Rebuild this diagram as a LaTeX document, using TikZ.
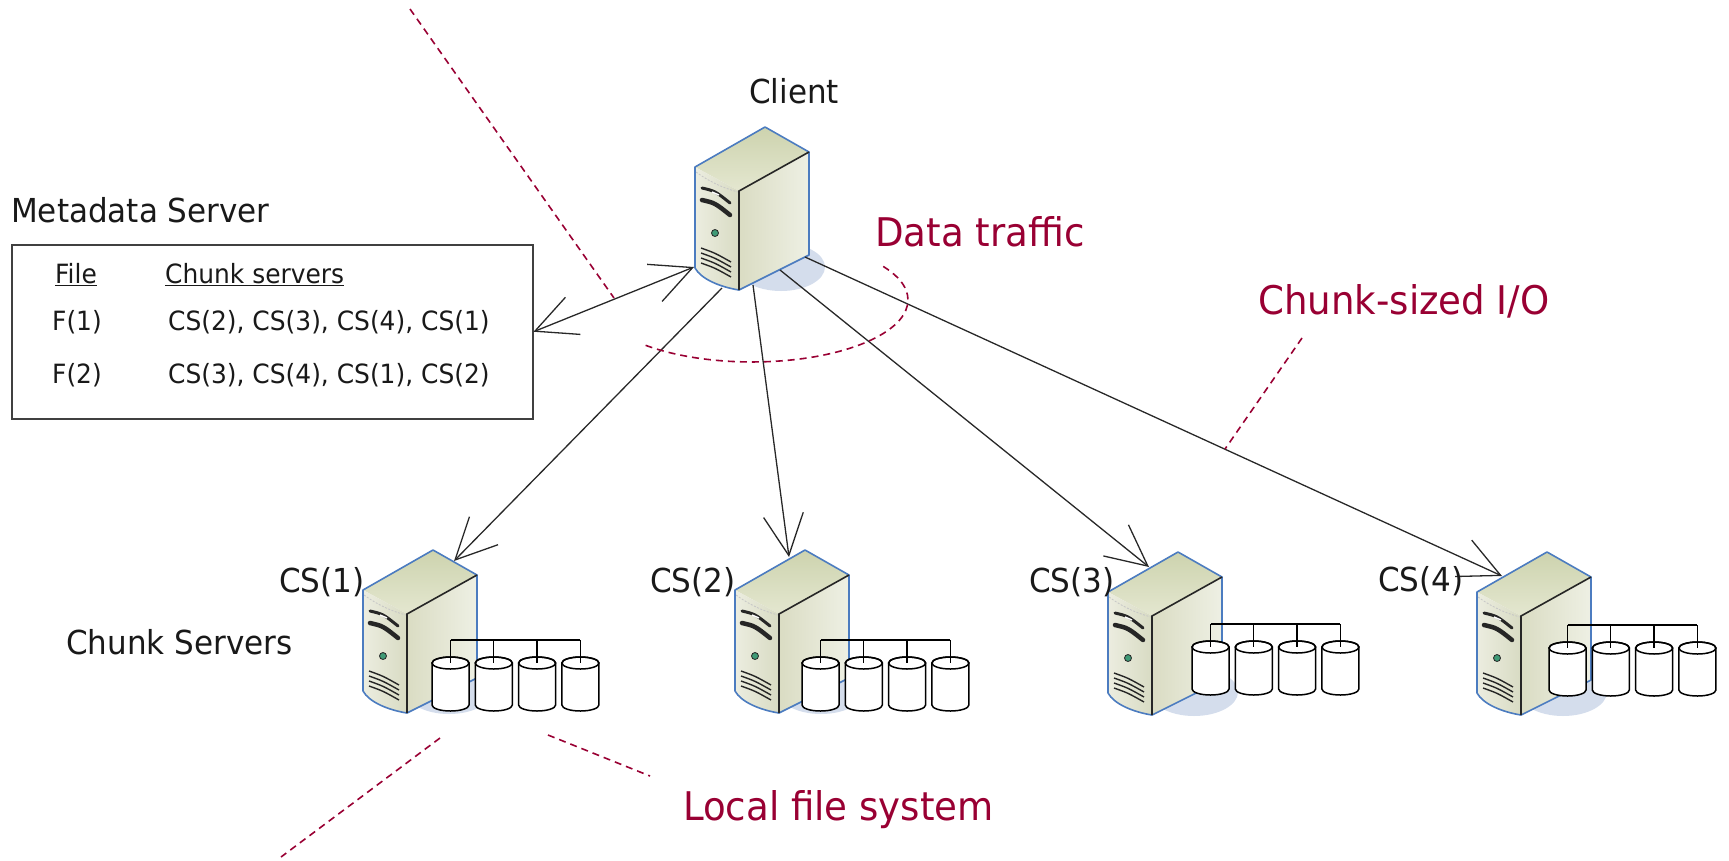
\documentclass[tikz,border=0pt]{standalone}
\usepackage{fontspec}
\setmainfont{DejaVu Sans}[FakeStretch=0.94]
\usetikzlibrary{arrows.meta}
\definecolor{crim}{RGB}{153,0,51}
\definecolor{linec}{RGB}{40,40,40}
\definecolor{textc}{RGB}{25,25,25}
\definecolor{shadowc}{RGB}{212,221,236}
\definecolor{topA}{RGB}{205,211,174}
\definecolor{topB}{RGB}{228,231,208}
\definecolor{frontA}{RGB}{236,237,224}
\definecolor{frontB}{RGB}{216,219,195}
\definecolor{sideA}{RGB}{218,220,195}
\definecolor{sideB}{RGB}{238,240,228}
\definecolor{bluec}{RGB}{76,124,192}
\definecolor{darkc}{RGB}{38,38,38}
\definecolor{greenc}{RGB}{63,154,118}
\newcommand\drawserver[2]{%
\begin{scope}[shift={(#1,#2)}]
\fill[shadowc] (16,140) ellipse [x radius=44, y radius=24];
\shade[top color=topA, bottom color=topB] (0,0) -- (-70,40) -- (-26,64) -- (44,25) -- cycle;
\shade[left color=frontA, right color=frontB] (-70,40) -- (-26,64) -- (-26,163) .. controls (-45,160) and (-64,152) .. (-70,141) -- cycle;
\shade[left color=sideA, right color=sideB] (-26,64) -- (44,25) -- (44,128) -- (-26,163) -- cycle;
\draw[gray!45, line width=0.8pt, dash pattern=on 2pt off 1.5pt] (-69,45) .. controls (-55,55) and (-42,61) .. (-27,65);
\draw[darkc, line width=3pt, line cap=round] (-63,61) .. controls (-50,64) .. (-35,76);
\draw[white, line width=1.4pt] (-53,65) -- (-46,68);
\draw[darkc, line width=4.5pt, line cap=round] (-63,73) .. controls (-50,76) .. (-35,88);
\fill[greenc] (-50,106) circle (3.5pt);
\draw[darkc, line width=0.8pt] (-50,106) circle (3.5pt);
\foreach \k in {0,...,3} \draw[darkc, line width=1.4pt] (-64,{121+5*\k}) .. controls (-50,{126+5*\k}) .. (-34,{135+5*\k});
\draw[bluec, line width=1.6pt, line join=round] (-26,163) .. controls (-45,160) and (-64,152) .. (-70,141) -- (-70,40) -- (0,0) -- (44,25) -- (44,128) -- cycle;
\draw[darkc, line width=1.6pt] (-26,163) -- (-26,64) -- (44,25);
\end{scope}}
\newcommand\drawdisks[3]{%
\foreach \i in {0,...,3}{
 \pgfmathsetmacro\cx{#1+18.5+43.3*\i}
 \filldraw[fill=white, draw=black, line width=1.5pt] ({\cx-18.5},#2) -- ({\cx-18.5},{#2+42}) arc[start angle=180,end angle=0,x radius=18.5,y radius=6] -- ({\cx+18.5},#2) arc[start angle=0,end angle=-180,x radius=18.5,y radius=6] -- cycle;
 \draw[black, line width=1.5pt] (\cx,#2) ellipse [x radius=18.5, y radius=6];
 \draw[black, line width=1.3pt] (\cx,#3) -- (\cx,#2);
}
\draw[black, line width=1.3pt] ({#1+18.5},#3) -- ({#1+18.5+3*43.3},#3);
}
\begin{document}
\begin{tikzpicture}[x=1pt,y=-1pt,
  >={Straight Barb[length=41pt,width=40pt]},
  conn/.style={draw=linec, line width=1.3pt},
  reddash/.style={draw=crim, line width=1.6pt, dash pattern=on 7pt off 5pt},
  lbl/.style={inner sep=0pt, anchor=base west, font=\fontsize{33}{38}\selectfont, text=textc},
  tbl/.style={inner sep=0pt, anchor=base west, font=\fontsize{26.5}{30}\selectfont, text=textc},
  redlbl/.style={inner sep=0pt, anchor=base west, font=\fontsize{39.5}{44}\selectfont, text=crim},
]
\useasboundingbox (0,0) rectangle (1729,860);
% servers
\drawserver{765}{127}
\drawserver{433}{550}
\drawserver{805}{550}
\drawserver{1178}{552}
\drawserver{1547}{552}
% disks
\drawdisks{432}{663}{640}
\drawdisks{802}{663}{640}
\drawdisks{1192}{647}{624}
\drawdisks{1549}{648}{625}
% metadata box
\node[draw=black!75, line width=1.5pt, minimum width=521pt, minimum height=174pt, anchor=north west, inner sep=0pt] (mdbox) at (11,244) {};
% connector end points
\coordinate (cMD) at (694,267);
\coordinate (c1) at (722,288);
\coordinate (c2) at (753,285);
\coordinate (c3) at (780,270);
\coordinate (c4) at (805,257);
\coordinate (t1) at (454,561);
\coordinate (t2) at (789,557);
\coordinate (t3) at (1149,567);
\coordinate (t4) at (1502,576);
\draw[conn,<->] (mdbox.east) -- (cMD);
\draw[conn,->] (c1) -- (t1);
\draw[conn,->] (c2) -- (t2);
\draw[conn,->] (c3) -- (t3);
\draw[conn,->] (c4) -- (t4);
% red dashed callouts
\coordinate (d1a) at (410,9);
\coordinate (d1b) at (614,298);
\draw[reddash] (d1a) -- (d1b);
\coordinate (dtS) at (645.6,345.3);
\draw[reddash] (dtS) arc[start angle=133, end angle=-33, x radius=156, y radius=62];
\coordinate (d3a) at (1302,338);
\coordinate (d3b) at (1225,449);
\draw[reddash] (d3a) -- (d3b);
\coordinate (d4a) at (440,738);
\coordinate (d4b) at (281,857);
\draw[reddash] (d4a) -- (d4b);
\coordinate (d5a) at (548,735);
\coordinate (d5b) at (650,776);
\draw[reddash] (d5a) -- (d5b);
% labels
\node[lbl] (client) at (749,103) {Client};
\node[lbl] (mdlabel) at (11,222) {Metadata Server};
\node[lbl] (cslabel) at (66,654) {Chunk Servers};
\node[lbl] (cs1) at (279,592) {CS(1)};
\node[lbl] (cs2) at (650,592) {CS(2)};
\node[lbl] (cs3) at (1029,592) {CS(3)};
\node[lbl] (cs4) at (1378,591) {CS(4)};
\node[tbl] (hfile) at (55,283) {\underline{File}};
\node[tbl] (hcs) at (165,283) {\underline{Chunk servers}};
\node[tbl] (f1) at (52,330) {F(1)};
\node[tbl] (f1cs) at (168,330) {CS(2), CS(3), CS(4), CS(1)};
\node[tbl] (f2) at (52,383) {F(2)};
\node[tbl] (f2cs) at (168,383) {CS(3), CS(4), CS(1), CS(2)};
\node[redlbl] (dt) at (875,246) {Data traffic};
\node[redlbl] (csio) at (1258,314) {Chunk-sized I/O};
\node[redlbl] (lfs) at (683,820) {Local file system};
\end{tikzpicture}
\end{document}
